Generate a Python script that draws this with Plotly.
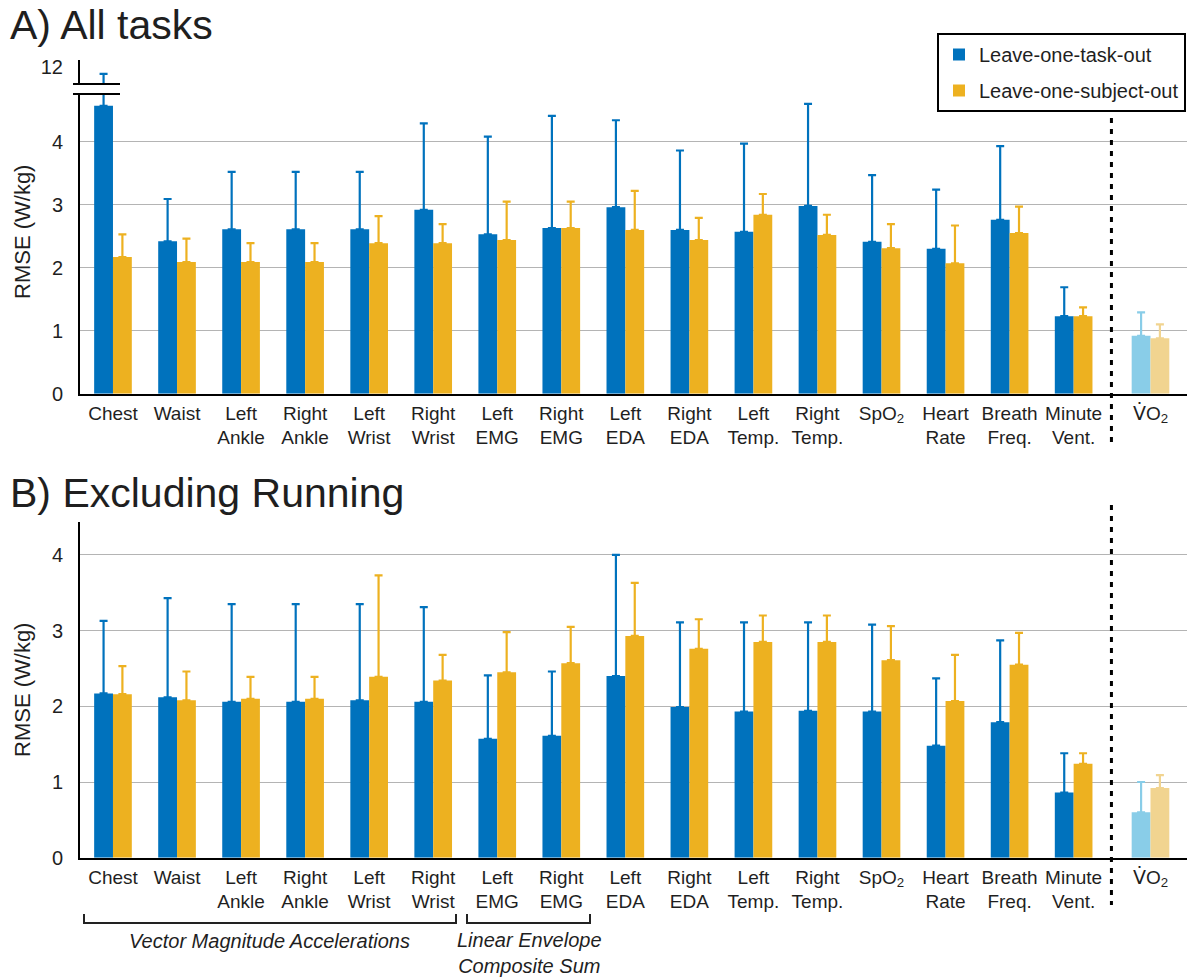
import plotly.graph_objects as go

# ---- data -------------------------------------------------------------
categories = ["Chest", "Waist", "Left<br>Ankle", "Right<br>Ankle", "Left<br>Wrist",
              "Right<br>Wrist", "Left<br>EMG", "Right<br>EMG", "Left<br>EDA",
              "Right<br>EDA", "Left<br>Temp.", "Right<br>Temp.", "SpO<sub>2</sub>",
              "Heart<br>Rate", "Breath<br>Freq.", "Minute<br>Vent."]
vo2_label = "<span style='font-family:DejaVu Sans'>V\u0307</span>O<sub>2</sub>"

# A) All tasks: mean RMSE and upper end of the error bar (mean + SD)
a_task_mean = [4.57, 2.42, 2.61, 2.61, 2.61, 2.92, 2.53, 2.63, 2.96, 2.60, 2.57, 2.98, 2.41, 2.30, 2.76, 1.23]
a_task_upper = [11.89, 3.09, 3.52, 3.52, 3.52, 4.29, 4.08, 4.41, 4.34, 3.86, 3.97, 4.60, 3.47, 3.24, 3.93, 1.69]
a_subj_mean = [2.17, 2.09, 2.09, 2.09, 2.39, 2.39, 2.44, 2.63, 2.60, 2.44, 2.84, 2.52, 2.31, 2.07, 2.55, 1.23]
a_subj_upper = [2.53, 2.46, 2.39, 2.39, 2.82, 2.69, 3.05, 3.05, 3.22, 2.79, 3.17, 2.84, 2.69, 2.67, 2.97, 1.37]
a_vo2_task = (0.92, 1.29)
a_vo2_subj = (0.88, 1.10)

# B) Excluding running
b_task_mean = [2.17, 2.12, 2.06, 2.06, 2.08, 2.06, 1.57, 1.61, 2.40, 1.99, 1.93, 1.94, 1.93, 1.48, 1.79, 0.86]
b_task_upper = [3.13, 3.43, 3.35, 3.35, 3.35, 3.31, 2.41, 2.46, 4.00, 3.11, 3.11, 3.11, 3.08, 2.37, 2.87, 1.38]
b_subj_mean = [2.16, 2.08, 2.10, 2.10, 2.39, 2.34, 2.45, 2.57, 2.93, 2.76, 2.85, 2.85, 2.61, 2.07, 2.55, 1.24]
b_subj_upper = [2.53, 2.46, 2.39, 2.39, 3.73, 2.68, 2.98, 3.05, 3.63, 3.15, 3.20, 3.20, 3.06, 2.68, 2.97, 1.38]
b_vo2_task = (0.60, 1.00)
b_vo2_subj = (0.92, 1.09)

# ---- styling ----------------------------------------------------------
BLUE, ORANGE = "#0072BD", "#EDB120"
LIGHT_BLUE, LIGHT_ORANGE = "#89CDE8", "#F1D490"
FONT = "Liberation Sans, Arial, Helvetica, sans-serif"
TXT = "#1f1f1f"
W, H = 1187, 977
BW = 0.294          # width of a single bar (x units)
XPOS = list(range(len(categories)))
VO2_X = 16.2
DIV_X = 15.59       # dashed separator before the VO2 reference
XR = [-0.515, 16.77]


def py(px):
    """pixel row -> paper fraction"""
    return 1 - px / H


def px_(x):
    return x / W


def bar(x, mean, upper, color, offset, xa, ya, name=None, legend=False, group=None):
    err = [round(u - m, 4) for m, u in zip(mean, upper)]
    return go.Bar(
        x=x, y=mean, width=BW, offset=offset, xaxis=xa, yaxis=ya,
        marker=dict(color=color, line=dict(width=0)),
        error_y=dict(type="data", symmetric=False, array=err,
                     arrayminus=[0] * len(err), color=color,
                     thickness=2.2, width=4),
        name=name, showlegend=legend, legendgroup=group, hoverinfo="skip",
    )


fig = go.Figure()

panels = [
    ("x", "y", a_task_mean, a_task_upper, a_subj_mean, a_subj_upper, a_vo2_task, a_vo2_subj, True),
    ("x3", "y3", a_task_mean, a_task_upper, a_subj_mean, a_subj_upper, a_vo2_task, a_vo2_subj, False),
    ("x2", "y2", b_task_mean, b_task_upper, b_subj_mean, b_subj_upper, b_vo2_task, b_vo2_subj, False),
]
for xa, ya, tm, tu, sm, su, vt, vs, leg in panels:
    fig.add_trace(bar(XPOS, tm, tu, BLUE, -BW, xa, ya, "Leave-one-task-out", leg, "task"))
    fig.add_trace(bar(XPOS, sm, su, ORANGE, 0, xa, ya, "Leave-one-subject-out", leg, "subj"))
    fig.add_trace(bar([VO2_X], [vt[0]], [vt[1]], LIGHT_BLUE, -BW, xa, ya))
    fig.add_trace(bar([VO2_X], [vs[0]], [vs[1]], LIGHT_ORANGE, 0, xa, ya))

tickvals = XPOS + [VO2_X]
ticktext = categories + [vo2_label]

xcommon = dict(domain=[px_(80), 1], range=XR, tickvals=tickvals, ticktext=ticktext,
               showline=True, linecolor="black", linewidth=2, ticks="",
               showgrid=False, zeroline=False, automargin=False,
               tickfont=dict(family=FONT, size=19, color=TXT), ticklabelstandoff=1)
ycommon = dict(showline=True, linecolor="black", linewidth=2, ticks="",
               showgrid=True, gridcolor="#b4b4b4", gridwidth=1, zeroline=False,
               automargin=False, tickfont=dict(family=FONT, size=20, color=TXT),
               ticklabelstandoff=11)

fig.update_layout(
    width=W, height=H, autosize=False,
    margin=dict(l=0, r=0, t=0, b=0),
    paper_bgcolor="white", plot_bgcolor="white",
    barmode="overlay",
    font=dict(family=FONT, color=TXT),
    xaxis=dict(anchor="y", **xcommon),
    yaxis=dict(anchor="x", domain=[py(393.7), py(94)], range=[0, 4.757],
               tickvals=[0, 1, 2, 3, 4], **ycommon),
    xaxis3=dict(anchor="y3", matches="x", visible=False, domain=[px_(80), 1], range=XR),
    yaxis3=dict(anchor="x3", domain=[py(84), py(60)], range=[11.73, 12.111],
                tickvals=[12], **{**ycommon, "showgrid": False}),
    xaxis2=dict(anchor="y2", **xcommon),
    yaxis2=dict(anchor="x2", domain=[py(857.7), py(522)], range=[0, 4.435],
                tickvals=[0, 1, 2, 3, 4], **ycommon),
    legend=dict(x=px_(937), y=py(33), xanchor="left", yanchor="top",
                bgcolor="white", bordercolor="black", borderwidth=2,
                font=dict(family=FONT, size=20, color=TXT),
                traceorder="grouped", tracegroupgap=7, itemwidth=30),
)

shapes = []
# axis break marks
for yy in (84, 94):
    shapes.append(dict(type="line", xref="paper", yref="paper",
                       x0=px_(73), x1=px_(120), y0=py(yy), y1=py(yy),
                       line=dict(color="black", width=2)))
# dashed separators before VO2
for y0, y1 in ((107, 445), (505, 905)):
    shapes.append(dict(type="line", xref="x", yref="paper", x0=DIV_X, x1=DIV_X,
                       y0=py(y0), y1=py(y1),
                       line=dict(color="black", width=3, dash="5px,6px")))
# group brackets below panel B
for x0, x1 in ((84, 456), (467, 590)):
    shapes.append(dict(type="path", xref="paper", yref="paper",
                       path=f"M{px_(x0)},{py(914)} L{px_(x0)},{py(923)} "
                            f"L{px_(x1)},{py(923)} L{px_(x1)},{py(914)}",
                       line=dict(color="#222", width=2)))
fig.update_layout(shapes=shapes)

ann = []
ann.append(dict(text="A) All tasks", x=px_(8), y=py(25), xref="paper", yref="paper",
                xanchor="left", yanchor="middle", showarrow=False,
                font=dict(family=FONT, size=41, color=TXT)))
ann.append(dict(text="B) Excluding Running", x=px_(8), y=py(493), xref="paper", yref="paper",
                xanchor="left", yanchor="middle", showarrow=False,
                font=dict(family=FONT, size=41, color=TXT)))
for yc in (232, 690):
    ann.append(dict(text="RMSE (W/kg)", x=px_(22), y=py(yc), xref="paper", yref="paper",
                    textangle=-90, showarrow=False, xanchor="center", yanchor="middle",
                    font=dict(family=FONT, size=22, color=TXT)))
ann.append(dict(text="<i>Vector Magnitude Accelerations</i>", x=px_(269), y=py(941),
                xref="paper", yref="paper", showarrow=False, xanchor="center",
                yanchor="middle", font=dict(family=FONT, size=20, color=TXT)))
ann.append(dict(text="<i>Linear Envelope<br>Composite Sum</i>", x=px_(529), y=py(953),
                xref="paper", yref="paper", showarrow=False, xanchor="center",
                yanchor="middle", font=dict(family=FONT, size=20, color=TXT)))
fig.update_layout(annotations=ann)

fig.write_html("out.html")
